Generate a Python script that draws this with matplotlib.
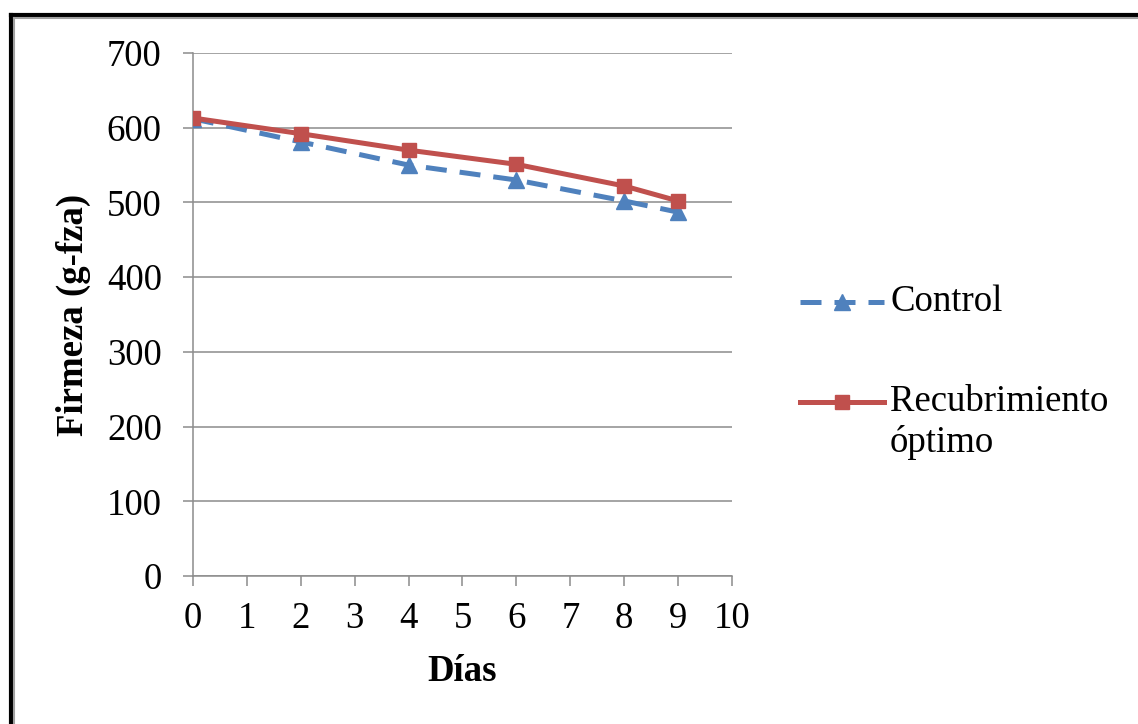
import matplotlib
matplotlib.use("Agg")
import matplotlib.pyplot as plt
from matplotlib.lines import Line2D

# Firmness (g-fza) over storage days
dias = [0, 2, 4, 6, 8, 9]
control = [612, 581, 550, 530, 502, 487]
recubrimiento = [613, 592, 570, 551, 522, 502]

x_ticks = list(range(0, 11))
y_ticks = [0, 100, 200, 300, 400, 500, 600, 700]

blue = "#4F81BD"
red = "#C0504D"
grid_gray = "#8C8C8C"
dash = (0, (4.2, 2.6))

plt.rcParams["font.family"] = ["Liberation Serif", "DejaVu Serif"]

fig = plt.figure(figsize=(11.38, 7.24), dpi=100)
ax = fig.add_axes([0.1696, 0.2044, 0.4736, 0.7224])

ax.plot(dias, control, color=blue, lw=3.6, ls=dash, marker="^",
        ms=11, mfc=blue, mec=blue, zorder=3)
ax.plot(dias, recubrimiento, color=red, lw=3.6, marker="s",
        ms=10, mfc=red, mec=red, zorder=4)

ax.set_xlim(0, 10)
ax.set_ylim(0, 700)
ax.set_xticks(x_ticks)
ax.set_yticks(y_ticks)
ax.tick_params(axis="both", labelsize=26.5, length=7.5, width=1.1,
               color=grid_gray, direction="out")
ax.tick_params(axis="y", pad=15)
ax.tick_params(axis="x", pad=11)
ax.yaxis.grid(True, color=grid_gray, lw=1.1)
ax.set_axisbelow(True)
for side in ("top", "right"):
    ax.spines[side].set_visible(False)
for side in ("left", "bottom"):
    ax.spines[side].set_color(grid_gray)
    ax.spines[side].set_linewidth(1.1)

ax.set_xlabel("Días", fontsize=26.5, fontweight="bold", labelpad=13)
ax.set_ylabel("Firmeza (g-fza)", fontsize=26.5, fontweight="bold", labelpad=11)

# Legend to the right of the plot area
tr = fig.transFigure
W, H = 1138, 724
def fx(px):
    return px / W
def fy(py):
    return 1 - py / H

fig.add_artist(Line2D([fx(800), fx(884)], [fy(302), fy(302)], transform=tr,
                      color=blue, lw=3.6, ls=dash))
fig.add_artist(Line2D([fx(842)], [fy(302)], transform=tr, color=blue,
                      marker="^", ms=11, ls="none"))
fig.text(fx(890), fy(302), "Control", fontsize=26.5, va="center", ha="left")

fig.add_artist(Line2D([fx(800), fx(884)], [fy(402), fy(402)], transform=tr,
                      color=red, lw=3.6))
fig.add_artist(Line2D([fx(842)], [fy(402)], transform=tr, color=red,
                      marker="s", ms=10, ls="none"))
fig.text(fx(890), fy(402), "Recubrimiento", fontsize=26.5, va="center", ha="left")
fig.text(fx(890), fy(442), "óptimo", fontsize=26.5, va="center", ha="left")

# Outer frame of the chart area
fig.add_artist(Line2D([fx(10.5), fx(10.5)], [fy(14.5), 0], transform=tr,
                      color="black", lw=3))
fig.add_artist(Line2D([fx(10.5), 1], [fy(14.5), fy(14.5)], transform=tr,
                      color="black", lw=3))
fig.add_artist(Line2D([fx(13.5), fx(13.5)], [fy(17.5), 0], transform=tr,
                      color="#A0A0A0", lw=1.5))
fig.add_artist(Line2D([fx(13.5), 1], [fy(17.5), fy(17.5)], transform=tr,
                      color="#A0A0A0", lw=1.5))

fig.savefig("out.png", dpi=100)
